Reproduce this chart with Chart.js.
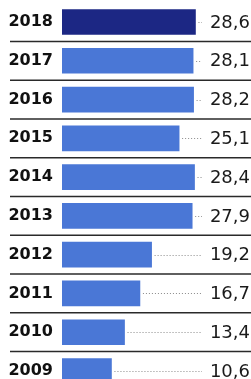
<!DOCTYPE html>
<html><head><meta charset="utf-8">
<script src="https://cdn.jsdelivr.net/npm/chart.js@4/dist/chart.umd.min.js"></script>
<style>html,body{margin:0;padding:0;background:#fff;overflow:hidden;width:251px;height:379px}#wrap{width:251px;height:409px;margin-top:-8px}</style>
</head><body><div id="wrap"><canvas id="c" width="251" height="409"></canvas></div>
<script>
const years = ["2018","2017","2016","2015","2014","2013","2012","2011","2010","2009"];
const values = [28.6, 28.1, 28.2, 25.1, 28.4, 27.9, 19.2, 16.7, 13.4, 10.6];
const valueLabels = ["28,6","28,1","28,2","25,1","28,4","27,9","19,2","16,7","13,4","10,6"];
const barColors = ["#1c2784","#4a77d6","#4a77d6","#4a77d6","#4a77d6","#4a77d6","#4a77d6","#4a77d6","#4a77d6","#4a77d6"];

const decor = {
  id: 'decor',
  afterDatasetsDraw(chart) {
    const ctx = chart.ctx, y = chart.scales.y;
    const meta = chart.getDatasetMeta(0);
    ctx.save();
    ctx.strokeStyle = '#2a2a2a';
    ctx.lineWidth = 1.5;
    for (let i = 0; i < years.length - 1; i++) {
      const yy = (y.getPixelForValue(i) + y.getPixelForValue(i + 1)) / 2;
      ctx.beginPath(); ctx.moveTo(10, yy); ctx.lineTo(251, yy); ctx.stroke();
    }
    ctx.font = '18px "DejaVu Sans"';
    ctx.textAlign = 'right';
    ctx.textBaseline = 'middle';
    meta.data.forEach((bar, i) => {
      const yy = Math.round(bar.y) + 0.5;
      ctx.strokeStyle = '#8a8a8a';
      ctx.lineWidth = 1;
      ctx.setLineDash([1, 2]);
      ctx.beginPath(); ctx.moveTo(bar.x + 3, yy); ctx.lineTo(202, yy); ctx.stroke();
      ctx.setLineDash([]);
      ctx.fillStyle = '#1a1a1a';
      ctx.fillText(valueLabels[i], 250, bar.y + 1);
    });
    ctx.restore();
  }
};

new Chart(document.getElementById('c'), {
  type: 'bar',
  data: { labels: years, datasets: [{ data: values, backgroundColor: barColors, barThickness: 25, borderWidth: 0 }] },
  options: {
    indexAxis: 'y', responsive: false, animation: false,
    layout: { padding: { top: 0, bottom: 0, left: 0, right: 49 } },
    plugins: { legend: { display: false }, tooltip: { enabled: false } },
    scales: {
      x: { display: false, min: 0, max: 30 },
      y: {
        grid: { display: false }, border: { display: false },
        ticks: { color: '#111', padding: 1, font: { family: 'DejaVu Sans', weight: 'bold', size: 16 } },
        afterFit(s) { s.width = 62; }
      }
    }
  },
  plugins: [decor]
});
</script></body></html>
